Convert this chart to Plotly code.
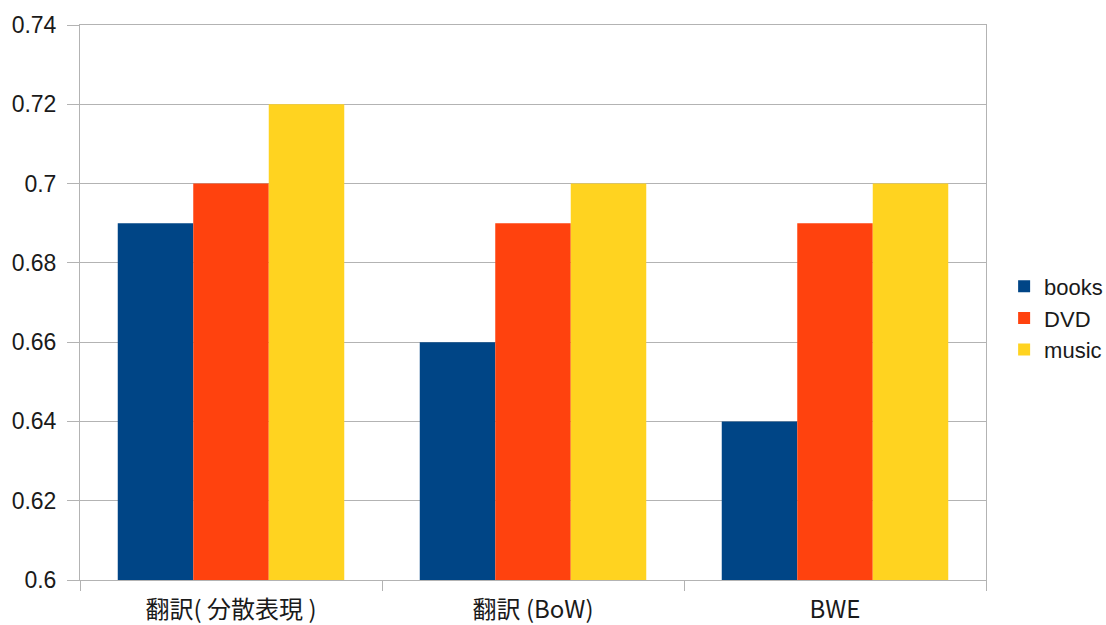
import plotly.graph_objects as go

categories = ["翻訳( 分散表現 )", "翻訳 (BoW)", "BWE"]
books = [0.69, 0.66, 0.64]
dvd = [0.70, 0.69, 0.69]
music = [0.72, 0.70, 0.70]
y_ticks = [0.6, 0.62, 0.64, 0.66, 0.68, 0.7, 0.72, 0.74]
y_tick_labels = ["0.6", "0.62", "0.64", "0.66", "0.68", "0.7", "0.72", "0.74"]

grid = "#b3b3b3"
font = dict(family="Liberation Sans, Arial, sans-serif", size=23, color="#1a1a1a")

fig = go.Figure()
fig.add_bar(name="books", x=categories, y=books, marker=dict(color="#004586", line=dict(width=0)))
fig.add_bar(name="DVD", x=categories, y=dvd, marker=dict(color="#ff420e", line=dict(width=0)))
fig.add_bar(name="music", x=categories, y=music, marker=dict(color="#ffd320", line=dict(width=0)))

fig.update_layout(
    width=1106, height=625,
    margin=dict(l=80, r=120, t=25, b=45, autoexpand=False),
    paper_bgcolor="white", plot_bgcolor="white",
    barmode="group", bargap=0.25, bargroupgap=0,
    font=font,
    legend=dict(x=1.02, xanchor="left", y=0.472, yanchor="middle",
                font=dict(family="Liberation Sans, Arial, sans-serif", size=22, color="#1a1a1a"),
                tracegroupgap=0, itemwidth=30),
    xaxis=dict(showline=True, linecolor=grid, linewidth=1, mirror=True,
               ticks="outside", tickson="boundaries", ticklen=10, tickcolor=grid, tickwidth=1,
               showgrid=False, automargin=False, ticklabelstandoff=8,
               tickfont=dict(family="Noto Sans CJK JP, Liberation Sans, sans-serif", size=24, color="#1a1a1a")),
    yaxis=dict(range=[0.6, 0.74], tickvals=y_ticks, ticktext=y_tick_labels,
               showline=True, linecolor=grid, linewidth=1, mirror=True,
               showgrid=True, gridcolor=grid, gridwidth=1,
               ticks="outside", ticklen=12, tickcolor=grid, tickwidth=1,
               zeroline=False, ticklabelstandoff=6, automargin=False),
)

fig.write_html("out.html")
